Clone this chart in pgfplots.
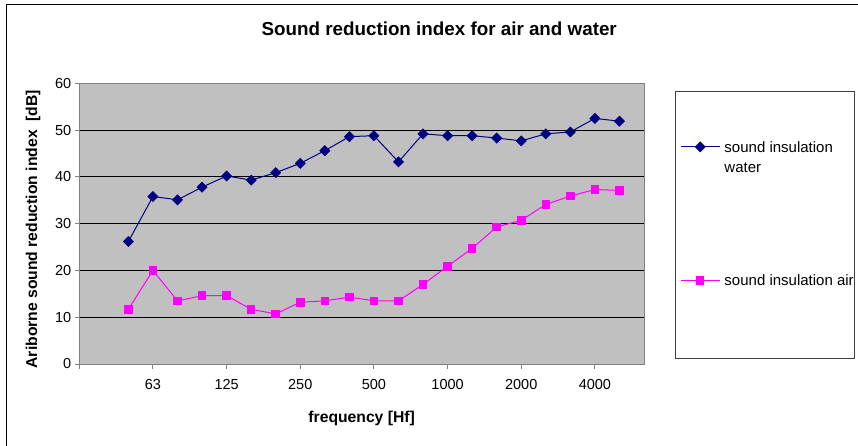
\documentclass[border=0pt]{standalone}
\usepackage{fontspec}
\setmainfont{Liberation Sans}
\usepackage{pgfplots}
\usepackage{pgfplotstable}
\pgfplotsset{compat=1.18}
\definecolor{plotgray}{RGB}{192,192,192}
\definecolor{framegray}{RGB}{128,128,128}
\definecolor{navyblue}{RGB}{0,0,128}
\definecolor{pinkmag}{RGB}{255,0,255}

% frequency bands: 2=50 Hz, 3=63 Hz, ..., 22=5000 Hz
\pgfplotstableread{
x  water air
2  26.2  11.7
3  35.8  20.0
4  35.1  13.5
5  37.8  14.6
6  40.2  14.6
7  39.3  11.7
8  40.9  10.7
9  42.9  13.2
10 45.6  13.5
11 48.6  14.3
12 48.8  13.5
13 43.2  13.5
14 49.2  17.0
15 48.8  20.9
16 48.8  24.7
17 48.3  29.3
18 47.7  30.7
19 49.2  34.1
20 49.6  35.9
21 52.5  37.3
22 51.9  37.1
}\datatable

\begin{document}
\begin{tikzpicture}
\useasboundingbox (0,0) rectangle (858pt,445pt);
\draw[black, line width=1.3pt] (6.5pt,-2pt) -- (6.5pt,440.5pt) -- (860pt,440.5pt);
\node[font=\fontsize{18.8}{22}\selectfont\bfseries, anchor=base] at (439.2pt,409.3pt) {Sound reduction index for air and water};
\draw[black!75, line width=1pt] (675pt,87pt) rectangle (854pt,353pt);
\begin{axis}[
  at={(79.3pt,81pt)}, anchor=south west,
  scale only axis, width=564.7pt, height=280.7pt,
  xmin=0, xmax=23, ymin=0, ymax=60,
  xtick={0,3,...,21},
  xticklabels={,63,125,250,500,1000,2000,4000},
  ytick={0,10,...,60},
  tick align=outside, xtick pos=bottom, ytick pos=left,
  major tick length=4.5pt,
  tick style={framegray, line width=1pt},
  axis line style={framegray, line width=1pt},
  axis background/.style={fill=plotgray},
  ymajorgrids, grid style={black, line width=1pt},
  tick label style={font=\fontsize{14.5}{17}\selectfont},
  xticklabel style={yshift=-7pt},
  /pgf/number format/assume math mode=true,
  xlabel={frequency [Hf]},
  ylabel={Ariborne sound reduction index\ \ [dB]},
  x label style={at={(axis description cs:0.5,-0.2077)}, anchor=base, font=\fontsize{15.7}{18}\selectfont\bfseries},
  y label style={at={(axis description cs:-0.082,0.48)}, anchor=center, font=\fontsize{15.7}{18}\selectfont\bfseries},
  legend style={at={(axis description cs:1.0637,0.8009)}, anchor=north west, draw=none, fill=none,
    inner sep=0pt, row sep=120pt, column sep=4.3pt,
    nodes={inner sep=0pt, font=\fontsize{15}{19.3}\selectfont}},
  legend cell align=left,
  legend image code/.code={\draw[mark repeat=2,mark phase=2,#1] plot coordinates {(0pt,0pt) (19.5pt,0pt) (39pt,0pt)};},
]
\addplot[navyblue, line width=1pt, mark=square*, mark size=3.4pt, mark options={rotate=45, fill=navyblue, solid}]
  table[x=x, y=water] {\datatable};
\addlegendentry{\begin{tabular}[t]{@{}l@{}}sound insulation\\water\end{tabular}}
\addplot[pinkmag, line width=1pt, mark=square*, mark size=3.8pt, mark options={fill=pinkmag, solid}]
  table[x=x, y=air] {\datatable};
\addlegendentry{sound insulation air}
\end{axis}
\end{tikzpicture}
\end{document}
